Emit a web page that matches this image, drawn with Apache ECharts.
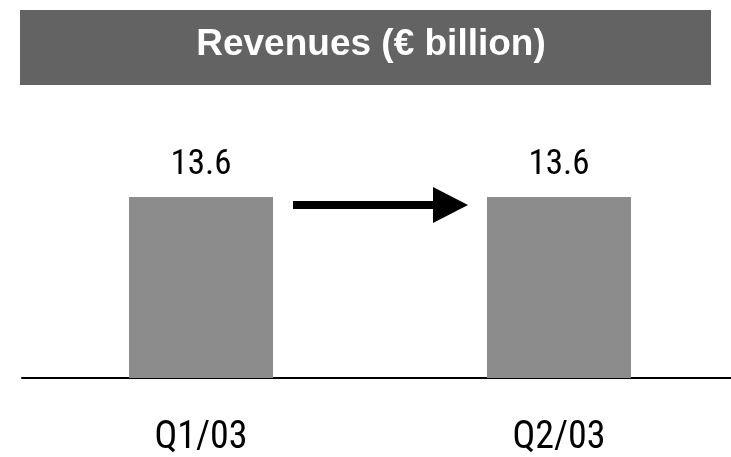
<!DOCTYPE html>
<html>
<head>
<meta charset="utf-8">
<script src="https://cdn.jsdelivr.net/npm/echarts@6/dist/echarts.min.js"></script>
<style>html,body{margin:0;padding:0;background:#fff}#c{width:731px;height:457px}</style>
</head>
<body>
<div id="c"></div>
<script>
var categories = ['Q1/03', 'Q2/03'];
var revenues = [13.6, 13.6];
var titleText = 'Revenues (€ billion)';

var chart = echarts.init(document.getElementById('c'), null, {renderer: 'canvas'});
var cond = "'Roboto Condensed', 'DejaVu Sans Condensed', sans-serif";
function titleGraphics() {
  return [
    {type: 'rect', shape: {x: 20, y: 10, width: 691, height: 75}, style: {fill: '#636363'}, z: 0},
    {type: 'text', x: 371, y: 45, style: {text: titleText, fill: '#fff', font: "bold 37px 'Liberation Sans', Arial, sans-serif", textAlign: 'center', textVerticalAlign: 'middle'}, z: 1}
  ];
}
chart.setOption({
  animation: false,
  backgroundColor: '#ffffff',
  grid: {left: 22, width: 716, top: 111.8, bottom: 79, containLabel: false, outerBoundsMode: 'none'},
  xAxis: {
    type: 'category',
    data: categories,
    axisLine: {show: true, lineStyle: {color: '#000', width: 2}},
    axisTick: {show: false},
    axisLabel: {margin: 41, fontSize: 38, color: '#000', fontFamily: cond}
  },
  yAxis: {type: 'value', min: 0, max: 20, show: false, splitLine: {show: false}},
  series: [{
    type: 'bar',
    data: revenues,
    barWidth: 144,
    itemStyle: {color: '#8c8c8c'},
    label: {show: true, position: 'top', distance: 14, fontSize: 35, color: '#000', fontFamily: cond,
      formatter: function (p) { return p.value.toFixed(1); }}
  }],
  graphic: titleGraphics()
});

// arrow annotation between the bars
var p1 = chart.convertToPixel({seriesIndex: 0}, [0, revenues[0]]);
var p2 = chart.convertToPixel({seriesIndex: 0}, [1, revenues[1]]);
var x0 = p1[0] + 72 + 20, x1 = p2[0] - 72 - 19, y = p1[1] + 8;
var g = titleGraphics();
g.push({type: 'line', shape: {x1: x0, y1: y, x2: x1 - 32, y2: y}, style: {stroke: '#000', lineWidth: 8}, z: 5});
g.push({type: 'polygon', shape: {points: [[x1 - 35, y - 18], [x1, y], [x1 - 35, y + 18]]}, style: {fill: '#000'}, z: 5});
chart.setOption({graphic: g});
</script>
</body>
</html>
